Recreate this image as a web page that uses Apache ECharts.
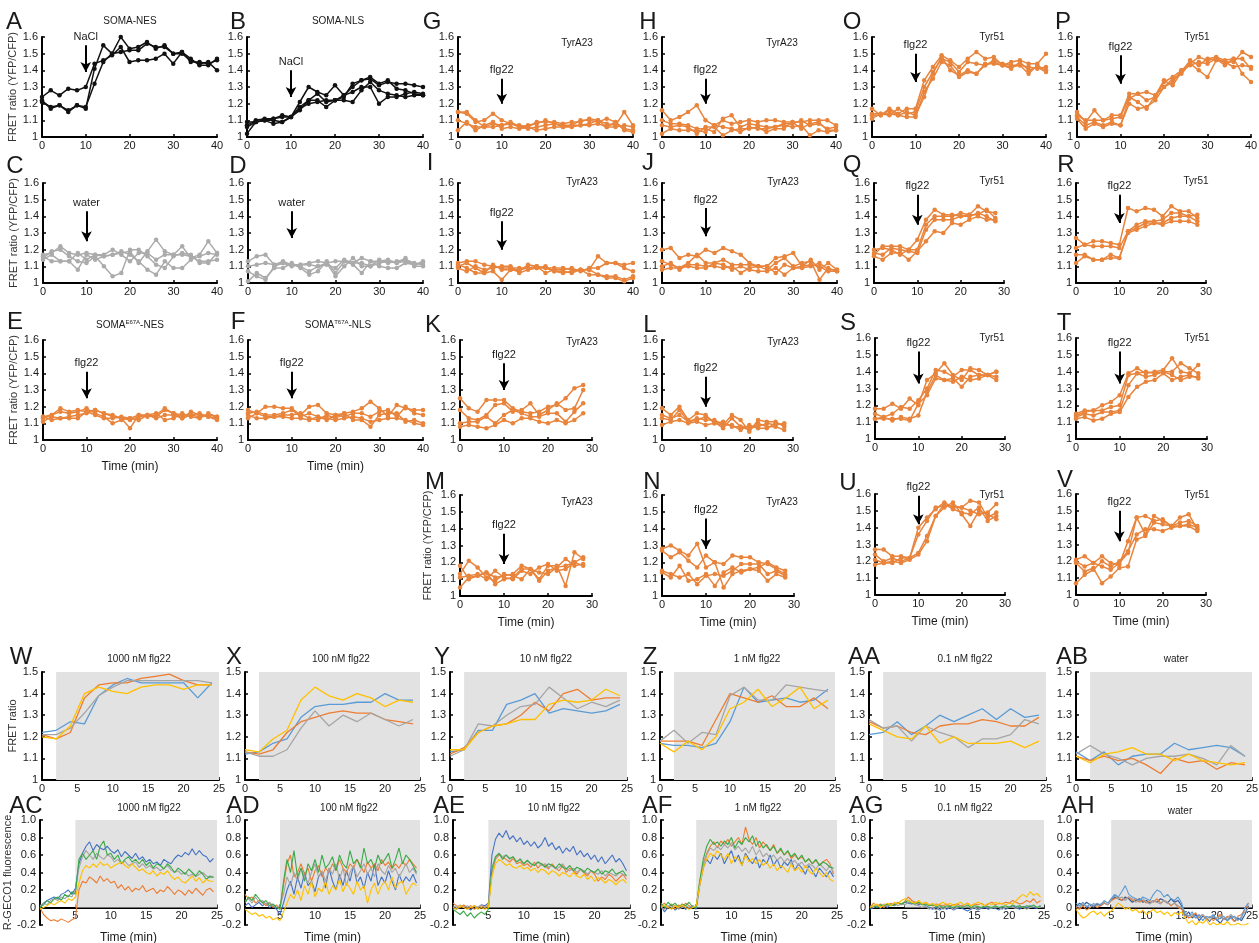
<!DOCTYPE html>
<html>
<head>
<meta charset="utf-8">
<script src="https://cdn.jsdelivr.net/npm/echarts@6.0.0/dist/echarts.min.js"></script>
<style>
  html, body { margin: 0; padding: 0; background: #fff; }
  #chart { width: 1259px; height: 943px; }
</style>
</head>
<body>
<div id="chart"></div>
<script>
// ---------- time points ----------
const t40 = [0, 2, 4, 6, 8, 10, 12, 14, 16, 18, 20, 22, 24, 26, 28, 30, 32, 34, 36, 38, 40];
const t28 = [0, 2, 4, 6, 8, 10, 12, 14, 16, 18, 20, 22, 24, 26, 28];
const t24 = [0, 2, 4, 6, 8, 10, 12, 14, 16, 18, 20, 22, 24];
const tGeco = [0, 0.5, 1, 1.5, 2, 2.5, 3, 3.5, 4, 4.5, 5, 5.5, 6, 6.5, 7, 7.5, 8, 8.5, 9, 9.5,
  10, 10.5, 11, 11.5, 12, 12.5, 13, 13.5, 14, 14.5, 15, 15.5, 16, 16.5, 17, 17.5, 18, 18.5, 19, 19.5,
  20, 20.5, 21, 21.5, 22, 22.5, 23, 23.5, 24, 24.5];

// ---------- FRET ratio (YFP/CFP), panels A-V ----------
const dataA = [
  [1.24, 1.28, 1.25, 1.29, 1.28, 1.30, 1.44, 1.46, 1.49, 1.54, 1.45, 1.46, 1.46, 1.47, 1.50, 1.44, 1.51, 1.47, 1.43, 1.43, 1.47],
  [1.21, 1.18, 1.19, 1.15, 1.19, 1.17, 1.41, 1.55, 1.50, 1.60, 1.53, 1.54, 1.57, 1.53, 1.55, 1.50, 1.50, 1.46, 1.44, 1.45, 1.40],
  [1.22, 1.17, 1.19, 1.16, 1.19, 1.18, 1.32, 1.45, 1.50, 1.51, 1.52, 1.52, 1.56, 1.54, 1.54, 1.50, 1.51, 1.45, 1.45, 1.44, 1.46]
];
const dataB = [
  [1.02, 1.09, 1.10, 1.10, 1.09, 1.12, 1.21, 1.30, 1.27, 1.25, 1.31, 1.25, 1.30, 1.34, 1.36, 1.32, 1.34, 1.29, 1.28, 1.26, 1.25],
  [1.07, 1.10, 1.11, 1.11, 1.12, 1.12, 1.18, 1.22, 1.26, 1.21, 1.22, 1.24, 1.32, 1.34, 1.35, 1.31, 1.33, 1.32, 1.32, 1.31, 1.30],
  [1.09, 1.09, 1.10, 1.08, 1.09, 1.12, 1.16, 1.22, 1.22, 1.18, 1.22, 1.22, 1.21, 1.28, 1.33, 1.28, 1.26, 1.25, 1.24, 1.25, 1.25],
  [1.06, 1.09, 1.10, 1.11, 1.13, 1.12, 1.17, 1.20, 1.21, 1.22, 1.22, 1.25, 1.27, 1.30, 1.30, 1.20, 1.24, 1.24, 1.26, 1.27, 1.26]
];
const dataC = [
  [1.17, 1.18, 1.22, 1.18, 1.17, 1.18, 1.17, 1.16, 1.17, 1.18, 1.19, 1.12, 1.19, 1.26, 1.19, 1.17, 1.22, 1.15, 1.17, 1.25, 1.18],
  [1.15, 1.19, 1.20, 1.16, 1.13, 1.12, 1.16, 1.10, 1.04, 1.06, 1.20, 1.20, 1.16, 1.11, 1.09, 1.16, 1.18, 1.17, 1.12, 1.12, 1.18],
  [1.14, 1.17, 1.13, 1.13, 1.08, 1.17, 1.14, 1.16, 1.17, 1.19, 1.17, 1.13, 1.08, 1.05, 1.13, 1.09, 1.09, 1.14, 1.16, 1.18, 1.17],
  [1.16, 1.13, 1.13, 1.13, 1.18, 1.14, 1.17, 1.17, 1.20, 1.17, 1.13, 1.18, 1.18, 1.14, 1.17, 1.17, 1.17, 1.16, 1.13, 1.13, 1.14]
];
const dataD = [
  [1.13, 1.16, 1.17, 1.11, 1.13, 1.11, 1.11, 1.12, 1.13, 1.12, 1.13, 1.13, 1.12, 1.15, 1.13, 1.13, 1.14, 1.12, 1.13, 1.11, 1.13],
  [1.10, 1.11, 1.12, 1.11, 1.12, 1.10, 1.11, 1.11, 1.10, 1.11, 1.09, 1.14, 1.12, 1.12, 1.10, 1.14, 1.12, 1.13, 1.14, 1.12, 1.11],
  [1.07, 1.04, 1.02, 1.10, 1.12, 1.11, 1.10, 1.07, 1.10, 1.12, 1.04, 1.10, 1.15, 1.10, 1.10, 1.12, 1.13, 1.12, 1.15, 1.10, 1.10],
  [1.01, 1.06, 1.03, 1.09, 1.09, 1.12, 1.09, 1.05, 1.07, 1.13, 1.06, 1.13, 1.11, 1.06, 1.13, 1.10, 1.09, 1.09, 1.12, 1.11, 1.12]
];
const dataE = [
  [1.14, 1.15, 1.19, 1.17, 1.18, 1.17, 1.18, 1.16, 1.14, 1.13, 1.12, 1.14, 1.15, 1.14, 1.18, 1.16, 1.15, 1.15, 1.14, 1.15, 1.14],
  [1.13, 1.15, 1.17, 1.16, 1.17, 1.19, 1.16, 1.14, 1.10, 1.12, 1.13, 1.15, 1.14, 1.15, 1.19, 1.16, 1.13, 1.17, 1.15, 1.14, 1.13],
  [1.11, 1.14, 1.13, 1.14, 1.15, 1.16, 1.18, 1.16, 1.15, 1.13, 1.07, 1.15, 1.15, 1.16, 1.12, 1.13, 1.16, 1.14, 1.13, 1.16, 1.14],
  [1.14, 1.12, 1.13, 1.13, 1.13, 1.17, 1.15, 1.13, 1.13, 1.14, 1.13, 1.12, 1.15, 1.13, 1.15, 1.15, 1.13, 1.15, 1.16, 1.14, 1.12]
];
const dataF = [
  [1.18, 1.16, 1.20, 1.20, 1.19, 1.19, 1.15, 1.20, 1.21, 1.16, 1.15, 1.16, 1.17, 1.19, 1.23, 1.19, 1.14, 1.21, 1.19, 1.18, 1.18],
  [1.16, 1.17, 1.15, 1.15, 1.16, 1.18, 1.14, 1.16, 1.14, 1.12, 1.15, 1.14, 1.16, 1.16, 1.14, 1.17, 1.18, 1.14, 1.20, 1.16, 1.15],
  [1.13, 1.16, 1.14, 1.14, 1.15, 1.15, 1.16, 1.13, 1.12, 1.15, 1.13, 1.16, 1.12, 1.12, 1.08, 1.15, 1.16, 1.16, 1.11, 1.12, 1.10],
  [1.15, 1.13, 1.13, 1.14, 1.14, 1.13, 1.13, 1.12, 1.14, 1.13, 1.12, 1.13, 1.14, 1.13, 1.11, 1.12, 1.13, 1.13, 1.12, 1.10, 1.09]
];
const dataG = [
  [1.15, 1.14, 1.09, 1.10, 1.14, 1.10, 1.08, 1.07, 1.06, 1.09, 1.09, 1.09, 1.08, 1.09, 1.09, 1.11, 1.10, 1.08, 1.07, 1.15, 1.07],
  [1.10, 1.08, 1.06, 1.06, 1.06, 1.07, 1.08, 1.06, 1.07, 1.08, 1.10, 1.08, 1.07, 1.07, 1.10, 1.10, 1.09, 1.11, 1.09, 1.05, 1.04],
  [1.04, 1.09, 1.04, 1.07, 1.09, 1.05, 1.06, 1.05, 1.06, 1.04, 1.05, 1.06, 1.06, 1.06, 1.07, 1.08, 1.10, 1.06, 1.09, 1.04, 1.03],
  [1.15, 1.15, 1.10, 1.06, 1.08, 1.07, 1.09, 1.06, 1.05, 1.06, 1.07, 1.08, 1.06, 1.07, 1.07, 1.07, 1.08, 1.06, 1.06, 1.07, 1.06]
];
const dataH = [
  [1.16, 1.10, 1.12, 1.15, 1.19, 1.10, 1.07, 1.10, 1.08, 1.09, 1.10, 1.09, 1.10, 1.10, 1.09, 1.09, 1.09, 1.10, 1.10, 1.10, 1.07],
  [1.10, 1.08, 1.08, 1.07, 1.05, 1.05, 1.03, 1.11, 1.13, 1.06, 1.08, 1.07, 1.06, 1.06, 1.08, 1.08, 1.10, 1.07, 1.08, 1.05, 1.06],
  [1.07, 1.06, 1.07, 1.06, 1.02, 1.06, 1.06, 1.01, 1.04, 1.05, 1.05, 1.06, 1.03, 1.05, 1.05, 1.09, 1.05, 1.08, 1.09, 1.04, 1.04],
  [1.02, 1.05, 1.04, 1.04, 1.04, 1.03, 1.07, 1.06, 1.05, 1.03, 1.06, 1.05, 1.05, 1.06, 1.07, 1.06, 1.07, 1.01, 1.04, 1.03, 1.04]
];
const dataI = [
  [1.12, 1.13, 1.13, 1.11, 1.10, 1.09, 1.09, 1.09, 1.09, 1.10, 1.09, 1.09, 1.09, 1.08, 1.08, 1.08, 1.16, 1.12, 1.12, 1.11, 1.12],
  [1.10, 1.12, 1.09, 1.06, 1.11, 1.08, 1.08, 1.07, 1.11, 1.10, 1.06, 1.08, 1.08, 1.09, 1.07, 1.09, 1.09, 1.12, 1.12, 1.09, 1.07],
  [1.09, 1.07, 1.10, 1.08, 1.09, 1.10, 1.10, 1.06, 1.08, 1.09, 1.10, 1.07, 1.07, 1.06, 1.08, 1.08, 1.05, 1.04, 1.04, 1.02, 1.04],
  [1.11, 1.09, 1.06, 1.06, 1.07, 1.02, 1.08, 1.08, 1.09, 1.09, 1.09, 1.07, 1.06, 1.07, 1.08, 1.05, 1.05, 1.03, 1.03, 1.01, 1.03]
];
const dataJ = [
  [1.20, 1.21, 1.15, 1.17, 1.16, 1.20, 1.18, 1.21, 1.19, 1.17, 1.12, 1.10, 1.10, 1.15, 1.16, 1.18, 1.10, 1.14, 1.08, 1.12, 1.08],
  [1.13, 1.11, 1.09, 1.12, 1.17, 1.12, 1.12, 1.14, 1.11, 1.11, 1.11, 1.10, 1.08, 1.12, 1.15, 1.10, 1.12, 1.13, 1.02, 1.09, 1.07],
  [1.10, 1.12, 1.08, 1.11, 1.11, 1.10, 1.10, 1.09, 1.10, 1.06, 1.09, 1.10, 1.10, 1.06, 1.11, 1.09, 1.09, 1.10, 1.12, 1.08, 1.08],
  [1.08, 1.09, 1.09, 1.10, 1.09, 1.09, 1.12, 1.11, 1.08, 1.10, 1.08, 1.07, 1.07, 1.09, 1.05, 1.09, 1.10, 1.11, 1.10, 1.07, 1.07]
];
const dataK = [
  [1.25, 1.19, 1.17, 1.24, 1.24, 1.24, 1.19, 1.17, 1.16, 1.17, 1.20, 1.21, 1.25, 1.31, 1.33],
  [1.18, 1.13, 1.12, 1.15, 1.21, 1.22, 1.17, 1.18, 1.22, 1.15, 1.18, 1.22, 1.18, 1.19, 1.30],
  [1.10, 1.11, 1.11, 1.14, 1.10, 1.15, 1.18, 1.16, 1.14, 1.14, 1.16, 1.16, 1.11, 1.17, 1.22],
  [1.08, 1.09, 1.08, 1.07, 1.09, 1.12, 1.10, 1.13, 1.13, 1.11, 1.10, 1.12, 1.10, 1.12, 1.16]
];
const dataL = [
  [1.19, 1.15, 1.20, 1.12, 1.16, 1.15, 1.10, 1.09, 1.15, 1.12, 1.05, 1.12, 1.11, 1.11, 1.08],
  [1.15, 1.13, 1.15, 1.11, 1.12, 1.14, 1.11, 1.07, 1.13, 1.08, 1.08, 1.08, 1.10, 1.09, 1.10],
  [1.13, 1.12, 1.18, 1.11, 1.13, 1.12, 1.12, 1.09, 1.09, 1.06, 1.09, 1.07, 1.07, 1.10, 1.09],
  [1.09, 1.11, 1.12, 1.10, 1.11, 1.09, 1.10, 1.11, 1.08, 1.08, 1.06, 1.10, 1.08, 1.08, 1.06]
];
const dataM = [
  [1.18, 1.10, 1.12, 1.14, 1.11, 1.12, 1.13, 1.18, 1.16, 1.10, 1.18, 1.18, 1.06, 1.26, 1.22],
  [1.13, 1.21, 1.17, 1.11, 1.09, 1.13, 1.12, 1.10, 1.16, 1.09, 1.15, 1.17, 1.22, 1.18, 1.19],
  [1.11, 1.12, 1.13, 1.10, 1.15, 1.11, 1.10, 1.15, 1.13, 1.17, 1.19, 1.15, 1.16, 1.20, 1.18],
  [1.05, 1.11, 1.12, 1.14, 1.07, 1.10, 1.11, 1.16, 1.16, 1.14, 1.13, 1.17, 1.18, 1.20, 1.23]
];
const dataN = [
  [1.28, 1.30, 1.27, 1.24, 1.31, 1.17, 1.20, 1.05, 1.13, 1.15, 1.16, 1.17, 1.20, 1.17, 1.15],
  [1.27, 1.23, 1.26, 1.21, 1.17, 1.24, 1.20, 1.19, 1.24, 1.23, 1.23, 1.20, 1.19, 1.16, 1.13],
  [1.15, 1.13, 1.11, 1.13, 1.07, 1.12, 1.13, 1.12, 1.15, 1.19, 1.19, 1.19, 1.13, 1.15, 1.12],
  [1.14, 1.11, 1.18, 1.09, 1.10, 1.13, 1.06, 1.14, 1.17, 1.14, 1.16, 1.15, 1.09, 1.13, 1.11]
];
const dataO = [
  [1.17, 1.13, 1.17, 1.14, 1.17, 1.17, 1.34, 1.42, 1.49, 1.46, 1.42, 1.47, 1.51, 1.47, 1.48, 1.43, 1.45, 1.46, 1.44, 1.44, 1.50],
  [1.14, 1.14, 1.13, 1.17, 1.14, 1.15, 1.30, 1.39, 1.47, 1.45, 1.39, 1.45, 1.44, 1.43, 1.46, 1.44, 1.43, 1.43, 1.42, 1.41, 1.42],
  [1.13, 1.13, 1.16, 1.13, 1.15, 1.13, 1.24, 1.38, 1.48, 1.40, 1.37, 1.40, 1.38, 1.44, 1.44, 1.43, 1.41, 1.45, 1.40, 1.42, 1.39],
  [1.11, 1.14, 1.14, 1.13, 1.12, 1.12, 1.27, 1.35, 1.45, 1.43, 1.36, 1.39, 1.38, 1.43, 1.45, 1.43, 1.42, 1.43, 1.38, 1.43, 1.40]
];
const dataP = [
  [1.15, 1.09, 1.16, 1.10, 1.13, 1.13, 1.26, 1.26, 1.27, 1.25, 1.30, 1.35, 1.38, 1.44, 1.48, 1.46, 1.47, 1.45, 1.45, 1.51, 1.48],
  [1.13, 1.10, 1.10, 1.10, 1.11, 1.12, 1.24, 1.21, 1.17, 1.25, 1.34, 1.31, 1.39, 1.46, 1.43, 1.47, 1.48, 1.46, 1.47, 1.47, 1.41],
  [1.12, 1.07, 1.09, 1.07, 1.09, 1.07, 1.23, 1.26, 1.22, 1.24, 1.33, 1.36, 1.40, 1.43, 1.45, 1.44, 1.47, 1.43, 1.47, 1.38, 1.33],
  [1.11, 1.05, 1.08, 1.06, 1.08, 1.07, 1.20, 1.17, 1.18, 1.22, 1.30, 1.33, 1.40, 1.44, 1.40, 1.36, 1.46, 1.45, 1.42, 1.43, 1.42]
];
const dataQ = [
  [1.17, 1.22, 1.22, 1.22, 1.20, 1.26, 1.38, 1.44, 1.41, 1.41, 1.40, 1.41, 1.46, 1.43, 1.42],
  [1.20, 1.21, 1.20, 1.17, 1.20, 1.20, 1.35, 1.40, 1.40, 1.40, 1.42, 1.41, 1.41, 1.44, 1.39],
  [1.18, 1.17, 1.21, 1.20, 1.19, 1.18, 1.32, 1.38, 1.38, 1.38, 1.40, 1.40, 1.42, 1.40, 1.37],
  [1.16, 1.14, 1.18, 1.18, 1.14, 1.19, 1.25, 1.31, 1.30, 1.36, 1.35, 1.38, 1.40, 1.38, 1.38]
];
const dataR = [
  [1.27, 1.23, 1.25, 1.25, 1.24, 1.23, 1.45, 1.43, 1.45, 1.44, 1.40, 1.46, 1.43, 1.43, 1.39],
  [1.21, 1.23, 1.22, 1.22, 1.22, 1.21, 1.31, 1.35, 1.37, 1.37, 1.38, 1.42, 1.42, 1.40, 1.41],
  [1.17, 1.17, 1.14, 1.14, 1.17, 1.15, 1.31, 1.33, 1.36, 1.36, 1.36, 1.39, 1.40, 1.40, 1.37],
  [1.12, 1.16, 1.14, 1.14, 1.15, 1.15, 1.30, 1.32, 1.34, 1.36, 1.35, 1.37, 1.37, 1.37, 1.35]
];
const dataS = [
  [1.18, 1.18, 1.21, 1.18, 1.24, 1.20, 1.35, 1.39, 1.45, 1.38, 1.35, 1.42, 1.41, 1.38, 1.40],
  [1.15, 1.13, 1.15, 1.19, 1.18, 1.23, 1.30, 1.41, 1.40, 1.37, 1.41, 1.41, 1.38, 1.38, 1.40],
  [1.12, 1.13, 1.11, 1.13, 1.12, 1.14, 1.28, 1.38, 1.35, 1.36, 1.31, 1.37, 1.38, 1.38, 1.35],
  [1.12, 1.12, 1.12, 1.12, 1.11, 1.21, 1.26, 1.36, 1.35, 1.34, 1.37, 1.35, 1.36, 1.38, 1.37]
];
const dataT = [
  [1.15, 1.17, 1.17, 1.20, 1.22, 1.26, 1.39, 1.42, 1.39, 1.40, 1.41, 1.48, 1.40, 1.39, 1.44],
  [1.14, 1.16, 1.17, 1.17, 1.19, 1.20, 1.38, 1.39, 1.40, 1.39, 1.40, 1.40, 1.45, 1.42, 1.39],
  [1.13, 1.15, 1.14, 1.16, 1.16, 1.17, 1.32, 1.39, 1.37, 1.38, 1.40, 1.38, 1.35, 1.37, 1.37],
  [1.12, 1.13, 1.11, 1.12, 1.15, 1.16, 1.25, 1.31, 1.34, 1.35, 1.39, 1.35, 1.37, 1.38, 1.36]
];
const dataU = [
  [1.27, 1.27, 1.23, 1.23, 1.22, 1.40, 1.46, 1.51, 1.55, 1.52, 1.52, 1.50, 1.48, 1.49, 1.54],
  [1.24, 1.20, 1.22, 1.20, 1.22, 1.36, 1.44, 1.52, 1.53, 1.53, 1.52, 1.56, 1.55, 1.46, 1.49],
  [1.21, 1.19, 1.19, 1.22, 1.22, 1.25, 1.35, 1.47, 1.52, 1.55, 1.48, 1.41, 1.50, 1.48, 1.45],
  [1.18, 1.19, 1.20, 1.19, 1.21, 1.24, 1.32, 1.47, 1.54, 1.51, 1.49, 1.48, 1.52, 1.44, 1.47]
];
const dataV = [
  [1.21, 1.23, 1.19, 1.23, 1.19, 1.18, 1.32, 1.46, 1.47, 1.44, 1.45, 1.41, 1.46, 1.48, 1.39],
  [1.20, 1.17, 1.19, 1.17, 1.15, 1.19, 1.25, 1.46, 1.36, 1.47, 1.44, 1.41, 1.43, 1.44, 1.41],
  [1.19, 1.14, 1.16, 1.07, 1.11, 1.16, 1.17, 1.33, 1.35, 1.43, 1.42, 1.41, 1.41, 1.42, 1.40],
  [1.07, 1.12, 1.15, 1.20, 1.17, 1.20, 1.26, 1.36, 1.39, 1.39, 1.38, 1.40, 1.41, 1.41, 1.38]
];

// ---------- FRET ratio dose series W-AB (blue, orange, gray, yellow) ----------
const dataW = [
  [1.22, 1.23, 1.27, 1.26, 1.39, 1.44, 1.47, 1.45, 1.45, 1.45, 1.45, 1.38, 1.45],
  [1.21, 1.19, 1.22, 1.38, 1.44, 1.45, 1.45, 1.47, 1.48, 1.49, 1.46, 1.44, 1.44],
  [1.21, 1.21, 1.24, 1.31, 1.39, 1.43, 1.46, 1.46, 1.46, 1.46, 1.46, 1.46, 1.45],
  [1.20, 1.19, 1.25, 1.40, 1.43, 1.41, 1.40, 1.43, 1.44, 1.44, 1.42, 1.44, 1.44]
];
const dataX = [
  [1.12, 1.13, 1.17, 1.19, 1.29, 1.34, 1.35, 1.35, 1.36, 1.36, 1.40, 1.37, 1.37],
  [1.13, 1.12, 1.14, 1.22, 1.27, 1.29, 1.31, 1.32, 1.31, 1.31, 1.28, 1.27, 1.26],
  [1.13, 1.11, 1.11, 1.14, 1.24, 1.32, 1.25, 1.30, 1.27, 1.31, 1.28, 1.25, 1.28],
  [1.14, 1.13, 1.19, 1.23, 1.37, 1.43, 1.39, 1.37, 1.40, 1.38, 1.34, 1.37, 1.36]
];
const dataY = [
  [1.13, 1.14, 1.23, 1.23, 1.35, 1.37, 1.40, 1.31, 1.33, 1.32, 1.31, 1.32, 1.35],
  [1.12, 1.15, 1.22, 1.25, 1.26, 1.30, 1.36, 1.32, 1.40, 1.42, 1.37, 1.38, 1.38],
  [1.11, 1.14, 1.26, 1.25, 1.30, 1.34, 1.35, 1.43, 1.38, 1.33, 1.36, 1.34, 1.37],
  [1.14, 1.14, 1.22, 1.25, 1.26, 1.28, 1.28, 1.35, 1.37, 1.36, 1.37, 1.42, 1.39]
];
const dataZ = [
  [1.17, 1.16, 1.16, 1.15, 1.17, 1.27, 1.43, 1.36, 1.37, 1.38, 1.36, 1.37, 1.42],
  [1.18, 1.18, 1.18, 1.16, 1.28, 1.40, 1.38, 1.36, 1.39, 1.34, 1.34, 1.38, 1.33],
  [1.18, 1.23, 1.17, 1.22, 1.21, 1.39, 1.43, 1.37, 1.37, 1.44, 1.43, 1.42, 1.41],
  [1.17, 1.13, 1.18, 1.14, 1.20, 1.33, 1.36, 1.42, 1.34, 1.38, 1.43, 1.33, 1.37]
];
const dataAA = [
  [1.21, 1.22, 1.27, 1.21, 1.25, 1.30, 1.27, 1.30, 1.33, 1.28, 1.33, 1.29, 1.30],
  [1.27, 1.24, 1.25, 1.22, 1.21, 1.25, 1.26, 1.26, 1.28, 1.27, 1.25, 1.25, 1.29],
  [1.28, 1.24, 1.25, 1.18, 1.25, 1.22, 1.20, 1.15, 1.19, 1.19, 1.21, 1.28, 1.26],
  [1.26, 1.23, 1.20, 1.19, 1.25, 1.17, 1.20, 1.17, 1.17, 1.17, 1.18, 1.15, 1.18]
];
const dataAB = [
  [1.13, 1.09, 1.13, 1.07, 1.11, 1.12, 1.12, 1.17, 1.14, 1.15, 1.16, 1.15, 1.11],
  [1.11, 1.09, 1.11, 1.09, 1.10, 1.07, 1.03, 1.10, 1.08, 1.09, 1.05, 1.08, 1.07],
  [1.12, 1.16, 1.12, 1.10, 1.07, 1.10, 1.11, 1.11, 1.12, 1.10, 1.07, 1.16, 1.11],
  [1.11, 1.08, 1.12, 1.13, 1.15, 1.12, 1.12, 1.09, 1.12, 1.09, 1.08, 1.07, 1.08]
];

// ---------- R-GECO1 fluorescence AC-AH (blue, orange, gray, green, yellow) ----------
const dataAC = [
  [0.0, 0.05, 0.08, 0.1, 0.12, 0.1, 0.15, 0.17, 0.2, 0.15, 0.22, 0.5, 0.62, 0.7, 0.75, 0.65, 0.72, 0.68, 0.66, 0.7,
   0.65, 0.62, 0.66, 0.58, 0.64, 0.6, 0.56, 0.62, 0.55, 0.58, 0.52, 0.55, 0.5, 0.52, 0.48, 0.55, 0.52, 0.5, 0.56, 0.6,
   0.58, 0.63, 0.6, 0.67, 0.6, 0.65, 0.6, 0.58, 0.52, 0.56],
  [0.0, -0.08, -0.12, -0.15, -0.14, -0.16, -0.13, -0.15, -0.17, -0.14, -0.12, 0.2, 0.3, 0.28, 0.35, 0.32, 0.28, 0.36, 0.3, 0.33,
   0.28, 0.3, 0.22, 0.26, 0.2, 0.24, 0.18, 0.22, 0.2, 0.25, 0.18, 0.2, 0.22, 0.16, 0.2, 0.18, 0.24, 0.2, 0.15, 0.2,
   0.18, 0.14, 0.2, 0.16, 0.22, 0.18, 0.14, 0.2, 0.22, 0.18],
  [0.02, 0.05, 0.03, 0.08, 0.1, 0.08, 0.12, 0.1, 0.14, 0.12, 0.2, 0.45, 0.58, 0.65, 0.6, 0.55, 0.62, 0.58, 0.55, 0.6,
   0.58, 0.52, 0.55, 0.5, 0.53, 0.48, 0.5, 0.52, 0.46, 0.5, 0.45, 0.48, 0.44, 0.46, 0.42, 0.45, 0.48, 0.43, 0.4, 0.42,
   0.38, 0.4, 0.36, 0.38, 0.35, 0.38, 0.4, 0.36, 0.34, 0.36],
  [0.0, 0.03, 0.08, 0.05, 0.1, 0.12, 0.08, 0.15, 0.12, 0.18, 0.15, 0.55, 0.62, 0.55, 0.6, 0.65, 0.55, 0.7, 0.76, 0.6,
   0.62, 0.55, 0.6, 0.5, 0.55, 0.58, 0.52, 0.55, 0.5, 0.55, 0.48, 0.52, 0.45, 0.5, 0.48, 0.44, 0.5, 0.46, 0.4, 0.45,
   0.42, 0.38, 0.44, 0.4, 0.36, 0.42, 0.38, 0.32, 0.36, 0.34],
  [-0.02, 0.0, 0.02, 0.05, 0.03, 0.06, 0.08, 0.05, 0.1, 0.08, 0.12, 0.28, 0.42, 0.48, 0.45, 0.5, 0.46, 0.52, 0.48, 0.5,
   0.45, 0.48, 0.5, 0.52, 0.48, 0.45, 0.5, 0.46, 0.42, 0.44, 0.4, 0.38, 0.42, 0.36, 0.4, 0.38, 0.42, 0.36, 0.32, 0.35,
   0.3, 0.28, 0.32, 0.36, 0.3, 0.34, 0.28, 0.32, 0.3, 0.3]
];
const dataAD = [
  [0.02, 0.05, 0.0, 0.03, 0.06, 0.02, 0.05, 0.0, 0.02, -0.02, -0.08, 0.05, 0.2, 0.3, 0.15, 0.35, 0.22, 0.4, 0.25, 0.3,
   0.18, 0.35, 0.4, 0.22, 0.45, 0.3, 0.2, 0.38, 0.25, 0.42, 0.3, 0.48, 0.28, 0.35, 0.22, 0.4, 0.3, 0.5, 0.25, 0.35,
   0.28, 0.42, 0.3, 0.2, 0.38, 0.28, 0.35, 0.3, 0.38, 0.28],
  [0.15, 0.1, 0.12, 0.05, 0.08, 0.06, 0.02, 0.05, 0.0, 0.03, -0.02, 0.25, 0.5, 0.6, 0.35, 0.4, 0.5, 0.38, 0.45, 0.3,
   0.42, 0.48, 0.35, 0.45, 0.4, 0.5, 0.42, 0.55, 0.45, 0.4, 0.5, 0.45, 0.55, 0.48, 0.4, 0.52, 0.45, 0.5, 0.42, 0.55,
   0.48, 0.52, 0.44, 0.5, 0.45, 0.52, 0.48, 0.55, 0.5, 0.45],
  [0.08, 0.1, 0.05, 0.12, 0.06, 0.08, 0.04, 0.06, 0.02, 0.0, 0.02, 0.15, 0.35, 0.25, 0.4, 0.3, 0.45, 0.35, 0.28, 0.4,
   0.5, 0.35, 0.42, 0.3, 0.45, 0.38, 0.5, 0.32, 0.45, 0.25, 0.4, 0.48, 0.35, 0.42, 0.5, 0.38, 0.45, 0.35, 0.5, 0.42,
   0.38, 0.48, 0.4, 0.45, 0.35, 0.42, 0.5, 0.4, 0.45, 0.38],
  [0.05, 0.12, 0.08, 0.15, 0.1, 0.05, 0.08, 0.02, 0.04, 0.0, -0.02, 0.3, 0.55, 0.4, 0.65, 0.35, 0.45, 0.3, 0.5, 0.42,
   0.55, 0.4, 0.6, 0.45, 0.5, 0.58, 0.42, 0.6, 0.5, 0.45, 0.65, 0.5, 0.55, 0.45, 0.68, 0.5, 0.55, 0.45, 0.6, 0.5,
   0.55, 0.62, 0.45, 0.55, 0.68, 0.5, 0.6, 0.55, 0.48, 0.4],
  [-0.02, -0.05, -0.08, -0.06, -0.1, -0.08, -0.12, -0.1, -0.14, -0.12, -0.15, -0.05, 0.05, 0.15, 0.1, 0.2, 0.08, 0.25, 0.15, 0.3,
   0.12, 0.22, 0.18, 0.3, 0.15, 0.25, 0.2, 0.32, 0.18, 0.28, 0.22, 0.15, 0.3, 0.2, 0.25, 0.05, 0.2, 0.28, 0.15, 0.25,
   0.3, 0.2, 0.35, 0.22, 0.28, 0.3, 0.15, 0.22, 0.28, 0.25]
];
const dataAE = [
  [0.0, -0.02, 0.0, 0.02, 0.0, -0.03, 0.02, 0.0, 0.03, 0.02, 0.05, 0.6, 0.78, 0.85, 0.8, 0.88, 0.78, 0.82, 0.75, 0.8,
   0.72, 0.76, 0.7, 0.75, 0.68, 0.72, 0.8, 0.7, 0.74, 0.66, 0.7, 0.62, 0.68, 0.64, 0.7, 0.6, 0.65, 0.58, 0.62, 0.55,
   0.6, 0.52, 0.58, 0.5, 0.55, 0.6, 0.52, 0.56, 0.5, 0.42],
  [0.05, 0.02, 0.0, 0.03, 0.0, 0.02, -0.02, 0.0, 0.02, 0.0, 0.03, 0.4, 0.55, 0.6, 0.58, 0.55, 0.52, 0.56, 0.5, 0.52,
   0.48, 0.5, 0.46, 0.52, 0.45, 0.5, 0.48, 0.44, 0.5, 0.45, 0.42, 0.48, 0.4, 0.45, 0.42, 0.38, 0.44, 0.4, 0.36, 0.42,
   0.38, 0.3, 0.35, 0.32, 0.38, 0.35, 0.3, 0.34, 0.38, 0.32],
  [0.02, 0.0, 0.03, 0.0, 0.02, 0.0, 0.02, 0.0, 0.03, 0.0, 0.02, 0.42, 0.56, 0.62, 0.58, 0.6, 0.55, 0.58, 0.52, 0.56,
   0.5, 0.53, 0.5, 0.48, 0.52, 0.48, 0.5, 0.46, 0.48, 0.44, 0.46, 0.5, 0.44, 0.42, 0.45, 0.4, 0.44, 0.42, 0.38, 0.42,
   0.4, 0.38, 0.42, 0.36, 0.4, 0.38, 0.36, 0.4, 0.38, 0.36],
  [-0.02, -0.05, -0.08, -0.04, -0.1, -0.06, -0.12, -0.08, -0.05, -0.08, -0.02, 0.45, 0.58, 0.62, 0.55, 0.6, 0.56, 0.58, 0.52, 0.55,
   0.5, 0.54, 0.5, 0.48, 0.52, 0.5, 0.46, 0.5, 0.48, 0.45, 0.5, 0.46, 0.44, 0.48, 0.42, 0.46, 0.44, 0.4, 0.45, 0.42,
   0.4, 0.44, 0.38, 0.42, 0.4, 0.44, 0.38, 0.4, 0.42, 0.36],
  [0.0, -0.02, 0.02, 0.0, -0.02, 0.0, 0.02, -0.02, 0.0, -0.02, 0.0, 0.35, 0.5, 0.55, 0.52, 0.48, 0.5, 0.46, 0.45, 0.48,
   0.44, 0.46, 0.42, 0.45, 0.4, 0.44, 0.42, 0.38, 0.42, 0.4, 0.36, 0.4, 0.38, 0.35, 0.4, 0.36, 0.34, 0.38, 0.32, 0.36,
   0.3, 0.34, 0.32, 0.28, 0.32, 0.3, 0.26, 0.3, 0.32, 0.28]
];
const dataAF = [
  [0.02, -0.05, 0.0, 0.03, -0.03, 0.0, 0.02, -0.02, 0.0, 0.02, -0.02, 0.25, 0.45, 0.55, 0.5, 0.6, 0.55, 0.62, 0.5, 0.58,
   0.65, 0.52, 0.6, 0.48, 0.62, 0.55, 0.5, 0.58, 0.45, 0.55, 0.5, 0.6, 0.48, 0.55, 0.45, 0.52, 0.48, 0.55, 0.42, 0.5,
   0.45, 0.38, 0.48, 0.42, 0.35, 0.45, 0.4, 0.35, 0.42, 0.35],
  [0.02, 0.05, 0.0, 0.04, -0.02, 0.03, 0.0, 0.05, 0.02, 0.0, 0.02, 0.3, 0.5, 0.62, 0.7, 0.75, 0.68, 0.76, 0.72, 0.78,
   0.7, 0.75, 0.8, 0.72, 0.92, 0.78, 0.72, 0.8, 0.68, 0.75, 0.7, 0.65, 0.72, 0.62, 0.66, 0.6, 0.64, 0.56, 0.6, 0.55,
   0.58, 0.52, 0.55, 0.5, 0.54, 0.48, 0.52, 0.55, 0.5, 0.38],
  [0.0, -0.02, 0.02, 0.0, 0.03, -0.02, 0.0, 0.02, 0.0, 0.02, 0.0, 0.28, 0.48, 0.6, 0.68, 0.65, 0.7, 0.66, 0.72, 0.68,
   0.74, 0.66, 0.7, 0.64, 0.68, 0.62, 0.7, 0.6, 0.66, 0.58, 0.62, 0.56, 0.6, 0.54, 0.58, 0.52, 0.56, 0.5, 0.54, 0.48,
   0.52, 0.46, 0.5, 0.48, 0.44, 0.5, 0.46, 0.42, 0.48, 0.4],
  [0.05, 0.0, 0.06, 0.02, 0.05, 0.0, 0.04, 0.02, 0.06, 0.0, 0.0, 0.3, 0.55, 0.7, 0.78, 0.72, 0.75, 0.7, 0.76, 0.72,
   0.8, 0.68, 0.76, 0.72, 0.8, 0.75, 0.82, 0.7, 0.76, 0.68, 0.72, 0.65, 0.7, 0.62, 0.68, 0.6, 0.65, 0.58, 0.62, 0.55,
   0.6, 0.52, 0.56, 0.5, 0.55, 0.48, 0.52, 0.5, 0.46, 0.45],
  [0.0, 0.03, 0.0, -0.02, 0.02, 0.0, 0.03, 0.0, -0.02, 0.0, 0.02, 0.25, 0.45, 0.55, 0.62, 0.58, 0.65, 0.6, 0.55, 0.62,
   0.5, 0.58, 0.55, 0.48, 0.6, 0.52, 0.56, 0.5, 0.55, 0.48, 0.52, 0.45, 0.5, 0.42, 0.48, 0.45, 0.4, 0.5, 0.42, 0.46,
   0.4, 0.48, 0.42, 0.38, 0.45, 0.4, 0.35, 0.4, 0.32, 0.3]
];
const dataAG = [
  [-0.02, 0.0, 0.02, -0.01, 0.03, 0.0, 0.04, 0.02, 0.05, 0.03, 0.06, 0.05, 0.04, 0.06, 0.03, 0.05, 0.02, 0.0, -0.02, 0.0,
   -0.03, 0.0, -0.02, 0.0, -0.03, -0.01, 0.0, -0.02, -0.04, -0.02, 0.0, -0.03, -0.01, 0.0, -0.02, 0.0, -0.01, -0.03, 0.0, -0.02,
   0.0, 0.02, 0.0, -0.02, 0.01, 0.0, 0.02, 0.0, -0.01, 0.02],
  [0.0, 0.05, 0.02, 0.04, 0.0, 0.03, 0.05, 0.03, 0.06, 0.04, 0.07, 0.12, 0.08, 0.06, 0.05, 0.04, 0.06, 0.03, 0.02, 0.04,
   0.03, 0.02, 0.04, 0.02, 0.03, 0.04, 0.02, 0.03, 0.05, 0.02, 0.04, 0.03, 0.05, 0.02, 0.04, 0.06, 0.03, 0.05, 0.04, 0.06,
   0.05, 0.08, 0.06, 0.04, 0.05, 0.08, 0.06, 0.1, 0.05, 0.08],
  [0.02, 0.0, 0.03, 0.01, 0.04, 0.02, 0.03, 0.05, 0.02, 0.04, 0.03, 0.06, 0.05, 0.03, 0.02, 0.0, 0.02, -0.02, 0.0, -0.03,
   0.0, -0.02, 0.0, 0.01, -0.02, 0.0, 0.02, 0.0, 0.01, -0.01, 0.0, -0.02, 0.0, 0.02, 0.0, -0.01, 0.01, 0.0, -0.02, 0.0,
   0.01, 0.0, -0.01, 0.02, 0.0, -0.02, 0.0, 0.02, 0.0, 0.0],
  [0.0, 0.02, 0.0, 0.03, 0.02, 0.04, 0.02, 0.03, 0.05, 0.04, 0.06, 0.08, 0.05, 0.04, 0.06, 0.03, 0.04, 0.02, 0.03, 0.01,
   0.02, 0.0, 0.02, 0.01, 0.0, 0.02, 0.0, 0.01, 0.03, 0.0, 0.02, 0.01, 0.0, 0.02, 0.01, 0.0, 0.02, 0.0, 0.01, 0.02,
   0.0, 0.03, 0.01, 0.02, 0.0, 0.02, 0.01, 0.03, 0.0, 0.02],
  [0.0, 0.02, 0.04, 0.0, 0.03, 0.05, 0.02, 0.06, 0.04, 0.08, 0.1, 0.08, 0.06, 0.05, 0.08, 0.04, 0.06, 0.03, 0.05, 0.02,
   0.04, 0.06, 0.03, 0.05, 0.02, 0.04, 0.06, 0.03, 0.05, 0.02, 0.04, 0.06, 0.04, 0.02, 0.05, 0.03, 0.06, 0.04, 0.05, 0.03,
   0.05, 0.04, 0.08, 0.12, 0.15, 0.12, 0.18, 0.14, 0.16, 0.12]
];
// AH: dark blue, orange, gray, light blue, yellow
const dataAH = [
  [0.0, 0.05, 0.02, 0.06, 0.03, 0.0, 0.04, 0.02, 0.05, 0.03, 0.08, 0.12, 0.1, 0.08, 0.12, 0.1, 0.06, 0.08, 0.1, 0.06,
   0.08, 0.05, 0.08, 0.06, 0.1, 0.08, 0.05, 0.1, 0.06, 0.08, 0.02, -0.1, -0.05, -0.12, -0.08, -0.15, -0.1, -0.12, -0.16, -0.1,
   -0.14, -0.18, -0.12, -0.15, -0.1, -0.16, -0.12, -0.15, -0.08, 0.02],
  [0.0, -0.02, 0.02, -0.03, 0.0, 0.03, 0.0, 0.02, 0.05, 0.03, 0.08, 0.1, 0.12, 0.08, 0.1, 0.12, 0.08, 0.1, 0.06, 0.08,
   0.05, 0.08, 0.06, 0.1, 0.05, 0.08, 0.06, 0.02, 0.05, 0.0, -0.02, -0.08, -0.12, -0.1, -0.06, -0.12, -0.08, -0.14, -0.1, -0.15,
   -0.12, -0.08, -0.14, -0.1, -0.12, -0.16, -0.1, -0.08, -0.02, 0.05],
  [0.02, 0.0, 0.04, 0.02, 0.0, 0.05, 0.02, 0.04, 0.06, 0.03, 0.1, 0.14, 0.1, 0.12, 0.08, 0.12, 0.1, 0.06, 0.08, 0.1,
   0.06, 0.04, 0.08, 0.06, 0.04, 0.08, 0.06, 0.03, 0.05, 0.02, 0.0, -0.05, -0.1, -0.08, -0.12, -0.1, -0.08, -0.12, -0.15, -0.1,
   -0.12, -0.1, -0.14, -0.12, -0.08, -0.12, -0.15, -0.1, -0.05, 0.0],
  [0.05, 0.02, 0.06, 0.0, 0.04, 0.02, 0.05, 0.03, 0.08, 0.05, 0.1, 0.15, 0.12, 0.18, 0.25, 0.15, 0.12, 0.1, 0.08, 0.12,
   0.1, 0.08, 0.15, 0.2, 0.18, 0.12, 0.15, 0.1, 0.08, 0.12, 0.05, -0.08, -0.1, -0.05, -0.12, -0.08, -0.15, -0.1, -0.12, -0.08,
   -0.15, -0.12, -0.1, -0.15, -0.12, -0.1, -0.14, -0.12, 0.0, 0.05],
  [-0.02, -0.08, -0.12, -0.1, -0.06, -0.04, -0.08, -0.05, -0.1, -0.06, -0.04, 0.0, 0.05, 0.02, -0.02, 0.0, -0.04, -0.02, -0.06, -0.03,
   -0.08, -0.05, -0.02, -0.06, -0.04, -0.08, -0.05, -0.1, -0.06, -0.08, -0.05, -0.12, -0.18, -0.15, -0.2, -0.16, -0.18, -0.14, -0.2, -0.17,
   -0.2, -0.18, -0.2, -0.16, -0.2, -0.2, -0.18, -0.2, -0.2, -0.18]
];

// ---------- styling ----------
const FONT = "'Liberation Sans Narrow', 'Liberation Sans', Arial, sans-serif";
const FONT_WIDE = "'Liberation Sans', Arial, sans-serif";
const ORANGE = '#e8843c';
const BLACK = '#111111';
const GRAY = '#ababab';
const ratioColors = ['#5b9bd5', '#ed7d31', '#a5a5a5', '#ffc000'];
const gecoColors = ['#4472c4', '#ed7d31', '#a5a5a5', '#3aaa48', '#ffc000'];
const gecoColorsAH = ['#2f5597', '#ed7d31', '#a5a5a5', '#5b9bd5', '#ffc000'];

// layout: [left, top, width, height] for each plot area
const topPanels = [
  { id: 'A', data: dataA, t: t40, color: BLACK, box: [42, 37, 175, 100], arrow: ['NaCl', 1.55, 1.39], title: 'SOMA-NES', tpos: [130, 21], lpos: [14, 22], yName: true },
  { id: 'B', data: dataB, t: t40, color: BLACK, box: [247, 37, 176, 100], arrow: ['NaCl', 1.40, 1.24], title: 'SOMA-NLS', tpos: [338, 21], lpos: [238, 22] },
  { id: 'G', data: dataG, t: t40, color: ORANGE, box: [458, 37, 175, 100], arrow: ['flg22', 1.35, 1.2], title: 'TyrA23', tpos: [577, 43], lpos: [432, 22] },
  { id: 'H', data: dataH, t: t40, color: ORANGE, box: [662, 37, 174, 100], arrow: ['flg22', 1.35, 1.2], title: 'TyrA23', tpos: [782, 43], lpos: [648, 22] },
  { id: 'O', data: dataO, t: t40, color: ORANGE, box: [872, 37, 174, 100], arrow: ['flg22', 1.5, 1.33], title: 'Tyr51', tpos: [992, 37], lpos: [852, 22] },
  { id: 'P', data: dataP, t: t40, color: ORANGE, box: [1077, 37, 174, 100], arrow: ['flg22', 1.49, 1.32], title: 'Tyr51', tpos: [1197, 37], lpos: [1063, 22] },

  { id: 'C', data: dataC, t: t40, color: GRAY, box: [43, 183, 174, 100], arrow: ['water', 1.43, 1.25], lpos: [15, 166], yName: true },
  { id: 'D', data: dataD, t: t40, color: GRAY, box: [248, 183, 175, 100], arrow: ['water', 1.43, 1.27], lpos: [238, 166] },
  { id: 'I', data: dataI, t: t40, color: ORANGE, box: [458, 183, 175, 100], arrow: ['flg22', 1.37, 1.2], title: 'TyrA23', tpos: [582, 182], lpos: [430, 163] },
  { id: 'J', data: dataJ, t: t40, color: ORANGE, box: [662, 183, 175, 100], arrow: ['flg22', 1.45, 1.28], title: 'TyrA23', tpos: [783, 182], lpos: [648, 163] },
  { id: 'Q', data: dataQ, t: t28, color: ORANGE, box: [874, 183, 130, 100], arrow: ['flg22', 1.53, 1.35], title: 'Tyr51', tpos: [992, 181], lpos: [852, 165] },
  { id: 'R', data: dataR, t: t28, color: ORANGE, box: [1076, 183, 130, 100], arrow: ['flg22', 1.53, 1.36], title: 'Tyr51', tpos: [1196, 181], lpos: [1066, 165] },

  { id: 'E', data: dataE, t: t40, color: ORANGE, box: [43, 340, 174, 100], arrow: ['flg22', 1.41, 1.25], title: 'SOMA{s|E67A}-NES', tpos: [130, 325], lpos: [15, 322], yName: true, xName: true },
  { id: 'F', data: dataF, t: t40, color: ORANGE, box: [248, 340, 175, 100], arrow: ['flg22', 1.41, 1.25], title: 'SOMA{s|T67A}-NLS', tpos: [338, 325], lpos: [238, 322], xName: true },
  { id: 'K', data: dataK, t: t28, color: ORANGE, box: [460, 340, 132, 100], arrow: ['flg22', 1.46, 1.3], title: 'TyrA23', tpos: [582, 342], lpos: [433, 325] },
  { id: 'L', data: dataL, t: t28, color: ORANGE, box: [662, 340, 131, 100], arrow: ['flg22', 1.38, 1.2], title: 'TyrA23', tpos: [783, 342], lpos: [650, 325] },
  { id: 'S', data: dataS, t: t28, color: ORANGE, box: [875, 338, 130, 101], arrow: ['flg22', 1.52, 1.33], title: 'Tyr51', tpos: [992, 338], lpos: [848, 323] },
  { id: 'T', data: dataT, t: t28, color: ORANGE, box: [1076, 338, 131, 101], arrow: ['flg22', 1.52, 1.33], title: 'Tyr51', tpos: [1197, 338], lpos: [1064, 323] },

  { id: 'M', data: dataM, t: t28, color: ORANGE, box: [460, 495, 132, 101], arrow: ['flg22', 1.37, 1.19], title: 'TyrA23', tpos: [577, 502], lpos: [435, 482], yName: true, xName: true },
  { id: 'N', data: dataN, t: t28, color: ORANGE, box: [662, 495, 132, 101], arrow: ['flg22', 1.46, 1.28], title: 'TyrA23', tpos: [782, 502], lpos: [652, 482], xName: true },
  { id: 'U', data: dataU, t: t28, color: ORANGE, box: [875, 494, 130, 101], arrow: ['flg22', 1.59, 1.42], title: 'Tyr51', tpos: [992, 495], lpos: [848, 483], xName: true },
  { id: 'V', data: dataV, t: t28, color: ORANGE, box: [1076, 494, 130, 101], arrow: ['flg22', 1.5, 1.32], title: 'Tyr51', tpos: [1197, 495], lpos: [1065, 480], xName: true }
];

const ratioPanels = [
  { id: 'W', data: dataW, box: [42, 672, 177, 108], title: '1000 nM flg22', tpos: [139, 659], lpos: [21, 657], yName: true },
  { id: 'X', data: dataX, box: [245, 672, 175, 108], title: '100 nM flg22', tpos: [341, 659], lpos: [234, 657] },
  { id: 'Y', data: dataY, box: [450, 672, 177, 108], title: '10 nM flg22', tpos: [546, 659], lpos: [442, 657] },
  { id: 'Z', data: dataZ, box: [660, 672, 175, 108], title: '1 nM flg22', tpos: [757, 659], lpos: [650, 657] },
  { id: 'AA', data: dataAA, box: [869, 672, 177, 108], title: '0.1 nM flg22', tpos: [965, 659], lpos: [864, 657] },
  { id: 'AB', data: dataAB, box: [1076, 672, 176, 108], title: 'water', tpos: [1176, 659], lpos: [1072, 657] }
];

const gecoPanels = [
  { id: 'AC', data: dataAC, colors: gecoColors, box: [40, 820, 177, 105], title: '1000 nM flg22', tpos: [149, 808], lpos: [26, 806], yName: true },
  { id: 'AD', data: dataAD, colors: gecoColors, box: [245, 820, 175, 105], title: '100 nM flg22', tpos: [349, 808], lpos: [243, 806] },
  { id: 'AE', data: dataAE, colors: gecoColors, box: [453, 820, 177, 105], title: '10 nM flg22', tpos: [554, 808], lpos: [449, 806] },
  { id: 'AF', data: dataAF, colors: gecoColors, box: [661, 820, 176, 105], title: '1 nM flg22', tpos: [758, 808], lpos: [657, 806] },
  { id: 'AG', data: dataAG, colors: gecoColors, box: [870, 820, 174, 105], title: '0.1 nM flg22', tpos: [965, 808], lpos: [866, 806] },
  { id: 'AH', data: dataAH, colors: gecoColorsAH, box: [1076, 820, 176, 105], title: 'water', tpos: [1180, 811], lpos: [1078, 806] }
];

const grids = [], xAxes = [], yAxes = [], series = [], graphics = [];

function txt(pos, text, size, extra) {
  graphics.push({
    type: 'text', x: pos[0], y: pos[1], silent: true,
    style: Object.assign({ text: text, fontSize: size, fontFamily: FONT, fill: '#1a1a1a', align: 'center', verticalAlign: 'middle' }, extra || {})
  });
}

function fmt1(v) { return Math.abs(v - Math.round(v)) < 1e-9 ? String(Math.round(v)) : v.toFixed(1); }

const axisTick = { show: true, inside: true, length: 3, lineStyle: { color: '#000', width: 1.5 } };
const axisLabel = { color: '#1a1a1a', fontSize: 11, fontFamily: FONT };
function line() { return { onZero: false, lineStyle: { color: '#000', width: 2 } }; }
const yNameStyle = { fontSize: 11, fontFamily: FONT_WIDE, color: '#333' };

function pairs(t, vals) {
  const out = [];
  for (let k = 0; k < vals.length && k < t.length; k++) out.push([t[k], vals[k]]);
  return out;
}

function addGrid(box) {
  const gi = grids.length;
  grids.push({ left: box[0], top: box[1], width: box[2], height: box[3], containLabel: false, outerBoundsMode: 'none' });
  return gi;
}

// rows A-V
topPanels.forEach(p => {
  const gi = addGrid(p.box);
  const xmax = p.t === t40 ? 40 : 30;
  xAxes.push({
    gridIndex: gi, type: 'value', min: 0, max: xmax, interval: 10,
    axisLine: line(), axisTick: axisTick,
    axisLabel: Object.assign({ margin: 3 }, axisLabel), splitLine: { show: false },
    name: p.xName ? 'Time (min)' : '', nameLocation: 'middle', nameGap: 21,
    nameTextStyle: { fontSize: 12, fontFamily: FONT, color: '#1a1a1a' }
  });
  yAxes.push({
    gridIndex: gi, type: 'value', min: 1, max: 1.6, interval: 0.1,
    axisLine: line(), axisTick: axisTick, splitLine: { show: false },
    axisLabel: Object.assign({ margin: 4, formatter: fmt1 }, axisLabel),
    name: p.yName ? 'FRET ratio (YFP/CFP)' : '', nameLocation: 'middle', nameRotate: 90,
    nameGap: p.id === 'M' ? 27 : 23, nameTextStyle: yNameStyle
  });
  p.data.forEach(vals => {
    series.push({
      type: 'line', xAxisIndex: gi, yAxisIndex: gi, data: pairs(p.t, vals),
      symbol: 'circle', symbolSize: 4.5, showSymbol: true, z: 3,
      lineStyle: { color: p.color, width: 1.5 }, itemStyle: { color: p.color },
      emphasis: { disabled: true }
    });
  });
  // stimulus arrow
  series.push({
    type: 'line', xAxisIndex: gi, yAxisIndex: gi, data: [], silent: true, z: 4,
    markLine: {
      silent: true, symbol: ['none', 'arrow'], symbolSize: [8, 10], animation: false,
      lineStyle: { color: '#000', width: 2, type: 'solid' },
      label: { show: true, position: 'start', formatter: p.arrow[0], color: '#1a1a1a', fontSize: 11, fontFamily: FONT, distance: 3 },
      emphasis: { disabled: true },
      data: [[{ coord: [10, p.arrow[1]] }, { coord: [10, p.arrow[2]] }]]
    }
  });
  txt(p.lpos, p.id, 24, { fontFamily: FONT_WIDE, fontWeight: 300 });
  if (p.title) {
    txt(p.tpos, p.title, 10, { rich: { s: { fontSize: 6, fontFamily: FONT, verticalAlign: 'top', padding: [0, 0, 6, 0] } } });
  }
});

// rows W-AB
ratioPanels.forEach(p => {
  const gi = addGrid(p.box);
  xAxes.push({
    gridIndex: gi, type: 'value', min: 0, max: 25, interval: 5,
    axisLine: line(), axisTick: axisTick,
    axisLabel: Object.assign({ margin: 3 }, axisLabel), splitLine: { show: false }
  });
  yAxes.push({
    gridIndex: gi, type: 'value', min: 1, max: 1.5, interval: 0.1,
    axisLine: line(), axisTick: axisTick, splitLine: { show: false },
    axisLabel: Object.assign({ margin: 4, formatter: fmt1 }, axisLabel),
    name: p.yName ? 'FRET ratio' : '', nameLocation: 'middle', nameRotate: 90, nameGap: 21,
    nameTextStyle: yNameStyle
  });
  series.push({
    type: 'line', xAxisIndex: gi, yAxisIndex: gi, data: [], silent: true, z: 1,
    markArea: {
      silent: true, animation: false, itemStyle: { color: '#e2e2e2' },
      data: [[{ coord: [2, 1.5] }, { coord: [25, 1] }]]
    }
  });
  p.data.forEach((vals, k) => {
    series.push({
      type: 'line', xAxisIndex: gi, yAxisIndex: gi, data: pairs(t24, vals),
      showSymbol: false, z: 3, lineStyle: { color: ratioColors[k], width: 1.3 },
      itemStyle: { color: ratioColors[k] }, emphasis: { disabled: true }
    });
  });
  txt(p.lpos, p.id, 24, { fontFamily: FONT_WIDE, fontWeight: 300 });
  txt(p.tpos, p.title, 10);
});

// rows AC-AH: the time axis sits on the zero line (y range is -0.2 .. 1.0)
gecoPanels.forEach(p => {
  const gi = addGrid(p.box);
  const zeroLift = p.box[3] * 0.2 / 1.2;
  xAxes.push({
    gridIndex: gi, type: 'value', min: 0, max: 25, interval: 5,
    position: 'bottom', offset: -zeroLift,
    axisLine: line(), axisTick: axisTick,
    axisLabel: Object.assign({ margin: 3, showMinLabel: false }, axisLabel), splitLine: { show: false },
    name: 'Time (min)', nameLocation: 'middle', nameGap: 24,
    nameTextStyle: { fontSize: 12, fontFamily: FONT, color: '#1a1a1a' }
  });
  yAxes.push({
    gridIndex: gi, type: 'value', min: -0.2, max: 1.0, interval: 0.2,
    axisLine: line(), axisTick: axisTick, splitLine: { show: false },
    axisLabel: Object.assign({ margin: 4, formatter: v => Math.abs(v) < 1e-9 ? '0' : v.toFixed(1) }, axisLabel),
    name: p.yName ? 'R-GECO1 fluorescence' : '', nameLocation: 'middle', nameRotate: 90, nameGap: 17,
    nameTextStyle: yNameStyle
  });
  series.push({
    type: 'line', xAxisIndex: gi, yAxisIndex: gi, data: [], silent: true, z: 1,
    markArea: {
      silent: true, animation: false, itemStyle: { color: '#e2e2e2' },
      data: [[{ coord: [5, 1.0] }, { coord: [25, 0] }]]
    }
  });
  p.data.forEach((vals, k) => {
    series.push({
      type: 'line', xAxisIndex: gi, yAxisIndex: gi, data: pairs(tGeco, vals),
      showSymbol: false, z: 3, lineStyle: { color: p.colors[k], width: 1.1 },
      itemStyle: { color: p.colors[k] }, emphasis: { disabled: true }
    });
  });
  txt(p.lpos, p.id, 24, { fontFamily: FONT_WIDE, fontWeight: 300 });
  txt(p.tpos, p.title, 10);
});

const chart = echarts.init(document.getElementById('chart'), null, { renderer: 'canvas' });
chart.setOption({
  backgroundColor: '#ffffff',
  animation: false,
  tooltip: { show: false },
  grid: grids,
  xAxis: xAxes,
  yAxis: yAxes,
  series: series,
  graphic: graphics
});
</script>
</body>
</html>
